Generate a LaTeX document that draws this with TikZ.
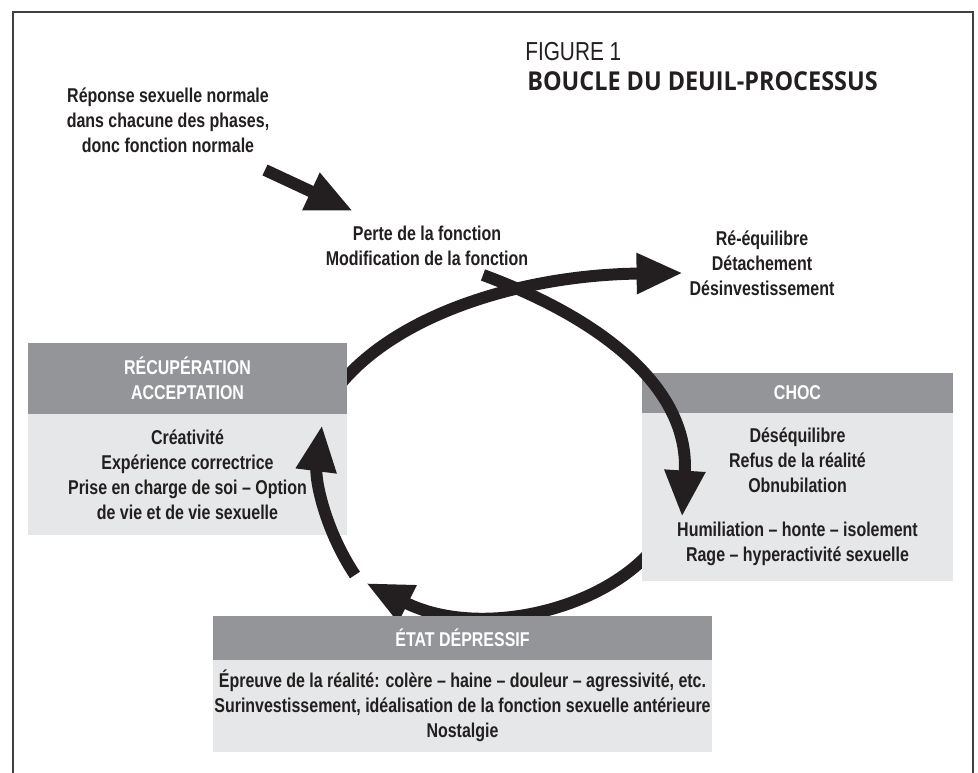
\documentclass[tikz,border=0pt]{standalone}
\usepackage{fontspec}
\setmainfont{Liberation Sans}[FakeStretch=0.8]
\newfontfamily\titlefont{Open Sans}[FakeStretch=0.9]
\usetikzlibrary{positioning, arrows.meta}
\definecolor{ink}{HTML}{231F20}
\definecolor{headgray}{HTML}{939598}
\definecolor{bodygray}{HTML}{E6E7E8}
\pgfdeclarelayer{back}
\pgfsetlayers{back,main}

\begin{document}
\begin{tikzpicture}[x=0.025cm, y=-0.025cm,
txt/.style={align=center, text=ink, inner sep=0pt, outer sep=0pt,
  font=\bfseries\fontsize{14.2}{17.8}\selectfont},
head/.style={txt, fill=headgray, text=white},
body/.style={txt, fill=bodygray},
flow/.style={draw=ink, line width=8.5pt, -{Triangle[width=27pt,length=33pt]}}]
\useasboundingbox (0,0) rectangle (978,773);
\draw[line width=1pt, black!75] (13,773) |- (973,12) -- (973,773);

\node[anchor=west, text=ink, inner sep=0pt, font=\fontsize{18.5}{20}\selectfont] (fig) at (525,52) {FIGURE 1};
\node[anchor=west, text=ink, inner sep=0pt, font=\titlefont\bfseries\fontsize{18.5}{20}\selectfont] (titre) at (527,81) {BOUCLE DU DEUIL-PROCESSUS};

\node[txt] (normal) at (168,120) {Réponse sexuelle normale\\dans chacune des phases,\\donc fonction normale};
\node[txt] (perte) at (427,245.5) {Perte de la fonction\\Modification de la fonction};
\node[txt] (reeq) at (762,263.5) {Ré-équilibre\\Détachement\\Désinvestissement};

\node[head, minimum width=7.975cm, minimum height=1.775cm] (recH) at (187.5,378.5) {RÉCUPÉRATION\\ACCEPTATION};
\node[body, minimum width=7.975cm, minimum height=3.025cm, below=0pt of recH] (recB)
  {Créativité\\Expérience correctrice\\Prise en charge de soi – Option\\de vie et de vie sexuelle};
\node[head, minimum width=7.775cm, minimum height=1cm] (chocH) at (797.5,393) {CHOC};
\node[body, minimum width=7.775cm, minimum height=4.2cm, below=0pt of chocH] (chocB)
  {Déséquilibre\\Refus de la réalité\\Obnubilation\\[13.5pt]Humiliation – honte – isolement\\Rage – hyperactivité sexuelle};
\node[head, minimum width=12.475cm, minimum height=1.1cm] (depH) at (462.5,638) {ÉTAT DÉPRESSIF};
\node[body, minimum width=12.475cm, minimum height=2.3cm, below=0pt of depH] (depB)
  {Épreuve de la réalité: colère – haine – douleur – agressivité, etc.\\Surinvestissement, idéalisation de la fonction sexuelle antérieure\\Nostalgie};

\coordinate (inA) at (265,170);
\coordinate (inB) at (353,211);
\coordinate (perteOut) at (483,275);
\coordinate (chocIn) at (682,517);
\coordinate (chocOut) at (660,540);
\coordinate (depIn) at (366,583);
\coordinate (depOut) at (355,575);
\coordinate (recIn) at (322,425);
\coordinate (recOut) at (338,387);
\coordinate (reeqIn) at (683,273);

\draw[flow] (inA) -- (inB);
\draw[flow] (perteOut) .. controls (605,320) and (690,390) .. (chocIn);
\draw[flow] (depOut) .. controls (325,530) and (315,480) .. (recIn);
\begin{pgfonlayer}{back}
\draw[flow] (recOut) .. controls (395,315) and (520,275) .. (reeqIn);
\draw[flow] (chocOut) .. controls (610,610) and (480,640) .. (depIn);
\end{pgfonlayer}
\end{tikzpicture}
\end{document}
